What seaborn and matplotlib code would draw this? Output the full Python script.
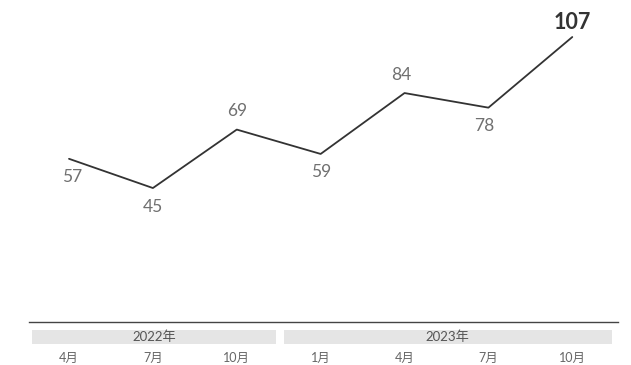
import matplotlib
matplotlib.use("Agg")
import matplotlib.pyplot as plt
import matplotlib.transforms as mtransforms
from matplotlib.patches import Rectangle
import seaborn as sns
import pandas as pd

sns.set_theme(style="white")
plt.rcParams["font.family"] = ["Lato", "Noto Sans CJK SC", "DejaVu Sans"]

# Quarterly values
months = ["4月", "7月", "10月", "1月", "4月", "7月", "10月"]
values = [57, 45, 69, 59, 84, 78, 107]
years = ["2022年", "2023年"]
year_counts = [3, 4]  # number of quarters under each year band
label_side = ["below", "below", "above", "below", "above", "below", "above"]
label_dx = [3, 0, 0, 0, -3, -4, 0]  # small horizontal nudges, pixels

df = pd.DataFrame({"pos": range(len(values)), "value": values})

W, H = 631, 365
fig = plt.figure(figsize=(W / 100, H / 100), dpi=100)
ax = fig.add_axes([29 / W, (H - 322) / H, (618 - 29) / W, 322 / H])

sns.lineplot(data=df, x="pos", y="value", ax=ax, color="#333333",
             linewidth=1.3, sort=False)

ax.set_xlim(-0.477, 6.545)
ax.set_ylim(-10, 122.2)

for s in ["top", "right", "left"]:
    ax.spines[s].set_visible(False)
ax.spines["bottom"].set_color("#444444")
ax.spines["bottom"].set_linewidth(1.0)
ax.set_xticks([])
ax.set_yticks([])
ax.set_xlabel("")
ax.set_ylabel("")

# Value labels
last = len(values) - 1
for i, (v, side, dx) in enumerate(zip(values, label_side, label_dx)):
    if i == last:
        ax.annotate(f"{v}", (i, v), xytext=(dx, 15), textcoords="offset pixels",
                    ha="center", va="center", fontsize=15.5, fontweight="bold",
                    color="#333333")
        continue
    dy = 18.5 if side == "above" else -18.5
    ax.annotate(f"{v}", (i, v), xytext=(dx, dy), textcoords="offset pixels",
                ha="center", va="center", fontsize=12.5, fontweight="normal",
                color="#707070")

# Year bands and month labels under the axis
trans = mtransforms.blended_transform_factory(ax.transData, ax.transAxes)
band_top = -8 / 322
band_h = 14.3 / 322
start = 0
for yr, n in zip(years, year_counts):
    x0 = start - 0.44
    x1 = start + n - 1 + 0.47
    ax.add_patch(Rectangle((x0, band_top - band_h), x1 - x0, band_h,
                           transform=trans, clip_on=False,
                           facecolor="#e5e5e5", edgecolor="none"))
    ax.text((x0 + x1) / 2, band_top - band_h / 2, yr, transform=trans,
            ha="center", va="center", fontsize=9.5, color="#555555")
    start += n

for i, m in enumerate(months):
    ax.text(i, -35.7 / 322, m, transform=trans, ha="center", va="center",
            fontsize=9, color="#666666")

fig.savefig("out.png", dpi=100, facecolor="white")
